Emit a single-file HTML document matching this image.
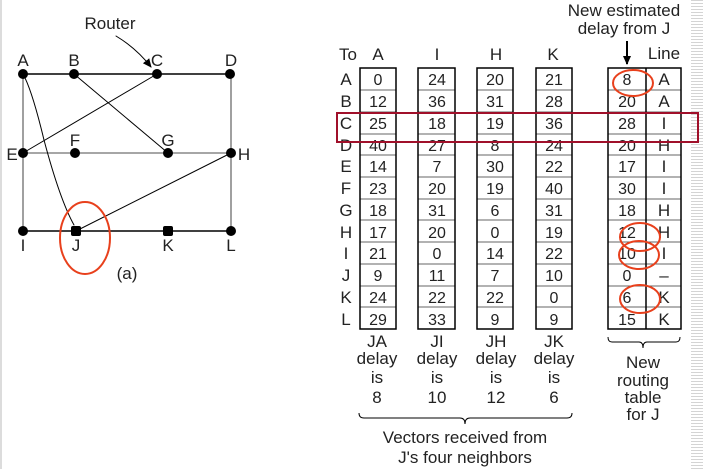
<!DOCTYPE html>
<html><head><meta charset="utf-8"><style>
html,body{margin:0;padding:0;background:#fff;}
svg{display:block;}
text{font-family:"Liberation Sans",Arial,sans-serif;fill:#222;}
</style></head><body>
<svg width="703" height="469" viewBox="0 0 703 469" xmlns="http://www.w3.org/2000/svg">
<defs>
<pattern id="stripes" width="12" height="3" patternUnits="userSpaceOnUse">
<rect width="12" height="1" fill="#d4d4d4"/>
</pattern>
<marker id="ah" markerWidth="10" markerHeight="10" refX="8" refY="5" orient="auto" markerUnits="userSpaceOnUse">
<path d="M0,1 L9,5 L0,9 z" fill="#000"/>
</marker>
</defs>
<rect x="0" y="0" width="2" height="469" fill="#dcdcdc"/>
<rect x="691" y="0" width="12" height="469" fill="url(#stripes)"/>

<!-- graph -->
<g stroke-linecap="round">
<line x1="23" y1="74" x2="231" y2="74" stroke="#000" stroke-width="1.6"/>
<line x1="23" y1="153" x2="231" y2="153" stroke="#888" stroke-width="1.6"/>
<line x1="23" y1="231" x2="231" y2="231" stroke="#000" stroke-width="1.6"/>
<line x1="23" y1="74" x2="23" y2="231" stroke="#888" stroke-width="1.6"/>
<line x1="231" y1="74" x2="231" y2="231" stroke="#888" stroke-width="1.6"/>
<path d="M23,74 Q32,90 44,140 Q60,200 74,225" fill="none" stroke="#000" stroke-width="1"/>
<line x1="74" y1="74" x2="168" y2="153" stroke="#000" stroke-width="1"/>
<line x1="157" y1="74" x2="23" y2="153" stroke="#000" stroke-width="1"/>
<line x1="231" y1="153" x2="76" y2="231" stroke="#000" stroke-width="1"/>
<path d="M116,36 Q136,48 151,67" fill="none" stroke="#000" stroke-width="1" marker-end="url(#ah)"/>
</g>
<g fill="#000">
<circle cx="23" cy="74" r="5"/><circle cx="74" cy="74" r="5"/><circle cx="157" cy="74" r="5"/><circle cx="230" cy="74" r="5"/>
<circle cx="23" cy="153" r="5"/><circle cx="75" cy="153" r="5"/><circle cx="168" cy="153" r="5"/><circle cx="231" cy="153" r="5"/>
<circle cx="23" cy="231" r="5"/><rect x="71" y="226" width="10" height="10" rx="2"/><rect x="163" y="226" width="10" height="10" rx="2"/><circle cx="231" cy="231" r="5"/>
</g>
<g font-size="17" text-anchor="middle">
<text x="110" y="29">Router</text>
<text x="23" y="66">A</text><text x="74" y="66">B</text><text x="157" y="66">C</text><text x="231" y="66">D</text>
<text x="12" y="160">E</text><text x="75" y="146">F</text><text x="168" y="146">G</text><text x="244" y="160">H</text>
<text x="23" y="251">I</text><text x="76" y="251">J</text><text x="168" y="251">K</text><text x="231" y="251">L</text>
<text x="127" y="279">(a)</text>
</g>
<ellipse cx="85" cy="238" rx="25" ry="36" fill="none" stroke="#e8401c" stroke-width="2"/>

<!-- table headers -->
<g font-size="17" text-anchor="middle">
<text x="348" y="60">To</text>
<text x="378" y="60">A</text><text x="437" y="60">I</text><text x="496" y="60">H</text><text x="553" y="60">K</text>
<text x="624" y="16">New estimated</text>
<text x="624" y="34">delay from J</text>
<text x="664" y="59">Line</text>
</g>
<line x1="627" y1="41" x2="627" y2="64" stroke="#000" stroke-width="2" marker-end="url(#ah)"/>

<!-- row letters -->
<g font-size="17" text-anchor="middle">
<text x="346" y="85">A</text><text x="346" y="107">B</text><text x="346" y="129">C</text><text x="346" y="151">D</text>
<text x="346" y="172">E</text><text x="346" y="194">F</text><text x="346" y="216">G</text><text x="346" y="238">H</text>
<text x="346" y="259">I</text><text x="346" y="281">J</text><text x="346" y="303">K</text><text x="346" y="325">L</text>
</g>

<!-- column boxes -->
<g fill="none">
<g stroke="#666" stroke-width="1">
<path d="M360,90h36M360,112h36M360,134h36M360,155h36M360,177h36M360,199h36M360,220h36M360,242h36M360,264h36M360,286h36M360,307h36"/>
<path d="M418,90h37M418,112h37M418,134h37M418,155h37M418,177h37M418,199h37M418,220h37M418,242h37M418,264h37M418,286h37M418,307h37"/>
<path d="M477,90h36M477,112h36M477,134h36M477,155h36M477,177h36M477,199h36M477,220h36M477,242h36M477,264h36M477,286h36M477,307h36"/>
<path d="M536,90h36M536,112h36M536,134h36M536,155h36M536,177h36M536,199h36M536,220h36M536,242h36M536,264h36M536,286h36M536,307h36"/>
<path d="M608,90h73M608,112h73M608,134h73M608,155h73M608,177h73M608,199h73M608,220h73M608,242h73M608,264h73M608,286h73M608,307h73"/>
</g>
<g stroke="#000" stroke-width="1.5">
<rect x="360" y="68" width="36" height="261"/>
<rect x="418" y="68" width="37" height="261"/>
<rect x="477" y="68" width="36" height="261"/>
<rect x="536" y="68" width="36" height="261"/>
<rect x="608" y="68" width="73" height="261"/>
<line x1="646" y1="68" x2="646" y2="329"/>
</g>
</g>

<!-- values -->
<g font-size="16" text-anchor="middle" style="fill:#333">
<g>
<text x="378" y="85">0</text><text x="378" y="107">12</text><text x="378" y="129">25</text><text x="378" y="151">40</text><text x="378" y="172">14</text><text x="378" y="194">23</text><text x="378" y="216">18</text><text x="378" y="238">17</text><text x="378" y="259">21</text><text x="378" y="281">9</text><text x="378" y="303">24</text><text x="378" y="325">29</text>
</g>
<g>
<text x="437" y="85">24</text><text x="437" y="107">36</text><text x="437" y="129">18</text><text x="437" y="151">27</text><text x="437" y="172">7</text><text x="437" y="194">20</text><text x="437" y="216">31</text><text x="437" y="238">20</text><text x="437" y="259">0</text><text x="437" y="281">11</text><text x="437" y="303">22</text><text x="437" y="325">33</text>
</g>
<g>
<text x="495" y="85">20</text><text x="495" y="107">31</text><text x="495" y="129">19</text><text x="495" y="151">8</text><text x="495" y="172">30</text><text x="495" y="194">19</text><text x="495" y="216">6</text><text x="495" y="238">0</text><text x="495" y="259">14</text><text x="495" y="281">7</text><text x="495" y="303">22</text><text x="495" y="325">9</text>
</g>
<g>
<text x="554" y="85">21</text><text x="554" y="107">28</text><text x="554" y="129">36</text><text x="554" y="151">24</text><text x="554" y="172">22</text><text x="554" y="194">40</text><text x="554" y="216">31</text><text x="554" y="238">19</text><text x="554" y="259">22</text><text x="554" y="281">10</text><text x="554" y="303">0</text><text x="554" y="325">9</text>
</g>
<g>
<text x="627" y="85">8</text><text x="627" y="107">20</text><text x="627" y="129">28</text><text x="627" y="151">20</text><text x="627" y="172">17</text><text x="627" y="194">30</text><text x="627" y="216">18</text><text x="627" y="238">12</text><text x="627" y="259">10</text><text x="627" y="281">0</text><text x="627" y="303">6</text><text x="627" y="325">15</text>
</g>
<g font-size="17">
<text x="664" y="85">A</text><text x="664" y="107">A</text><text x="664" y="129">I</text><text x="664" y="151">H</text><text x="664" y="172">I</text><text x="664" y="194">I</text><text x="664" y="216">H</text><text x="664" y="238">H</text><text x="664" y="259">I</text><text x="664" y="281">–</text><text x="664" y="303">K</text><text x="664" y="325">K</text>
</g>
</g>

<!-- highlight rectangle -->
<rect x="337" y="113" width="361" height="29" fill="none" stroke="#a0102a" stroke-width="2"/>

<!-- red ellipses -->
<g fill="none" stroke="#e8401c" stroke-width="2">
<ellipse cx="633" cy="83" rx="20" ry="13"/>
<ellipse cx="640" cy="237" rx="20" ry="14"/>
<ellipse cx="639" cy="255" rx="20" ry="14"/>
<ellipse cx="640" cy="299" rx="20" ry="14"/>
</g>

<!-- bottom labels -->
<g font-size="17" text-anchor="middle">
<text x="377" y="347">JA</text><text x="437" y="347">JI</text><text x="496" y="347">JH</text><text x="554" y="347">JK</text>
<text x="377" y="364">delay</text><text x="437" y="364">delay</text><text x="496" y="364">delay</text><text x="554" y="364">delay</text>
<text x="377" y="383">is</text><text x="437" y="383">is</text><text x="496" y="383">is</text><text x="554" y="383">is</text>
<text x="377" y="403">8</text><text x="437" y="403">10</text><text x="496" y="403">12</text><text x="554" y="403">6</text>
<text x="465" y="443">Vectors received from</text>
<text x="465" y="463">J's four neighbors</text>
<text x="643" y="368">New</text>
<text x="643" y="386">routing</text>
<text x="643" y="403">table</text>
<text x="643" y="420">for J</text>
</g>
<g fill="none" stroke="#000" stroke-width="1">
<path d="M359,413 Q359,418 364,418 L460,418 Q465,418 465,424 Q465,418 470,418 L567,418 Q572,418 572,413"/>
<path d="M608,337 Q608,342 612,342 L639,342 Q643,342 643,348 Q643,342 647,342 L676,342 Q680,342 680,337"/>
</g>
</svg>
</body></html>
